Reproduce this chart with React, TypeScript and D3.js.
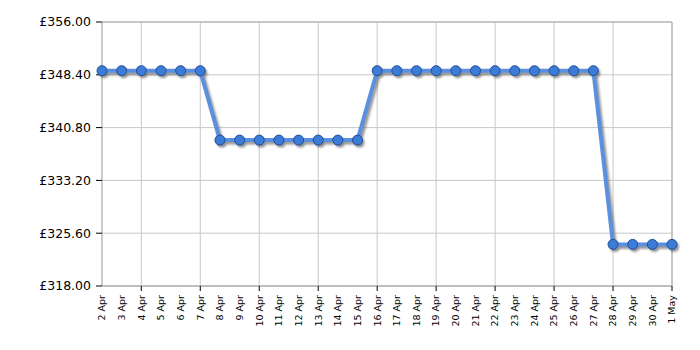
import React from "react";
import * as d3 from "d3";

const dates: string[] = [
  "2 Apr", "3 Apr", "4 Apr", "5 Apr", "6 Apr", "7 Apr", "8 Apr", "9 Apr", "10 Apr", "11 Apr",
  "12 Apr", "13 Apr", "14 Apr", "15 Apr", "16 Apr", "17 Apr", "18 Apr", "19 Apr", "20 Apr", "21 Apr",
  "22 Apr", "23 Apr", "24 Apr", "25 Apr", "26 Apr", "27 Apr", "28 Apr", "29 Apr", "30 Apr", "1 May",
];
const prices: number[] = [
  348.99, 348.99, 348.99, 348.99, 348.99, 348.99,
  339.0, 339.0, 339.0, 339.0, 339.0, 339.0, 339.0, 339.0,
  348.99, 348.99, 348.99, 348.99, 348.99, 348.99, 348.99, 348.99, 348.99, 348.99, 348.99, 348.99,
  323.99, 323.99, 323.99, 323.99,
];
const yTicks: number[] = [318, 325.6, 333.2, 340.8, 348.4, 356];

const W = 700, H = 350;
const M = { left: 102, right: 28, top: 22, bottom: 64 };

export default function App() {
  const x = d3.scaleLinear().domain([0, dates.length - 1]).range([M.left, W - M.right]);
  const y = d3.scaleLinear().domain([318, 356]).range([H - M.bottom, M.top]);
  const line = d3.line<number>().x((_, i) => x(i)).y((d) => y(d));
  const path = line(prices) || "";
  const majorIdx = dates.map((_, i) => i).filter((i) => i % 3 === 2);
  const fmt = (v: number) => "£" + v.toFixed(2);
  const x0 = M.left, x1 = W - M.right, y0 = H - M.bottom, y1 = M.top;
  return (
    <svg width={W} height={H} style={{ position: "absolute", left: 0, top: 0, fontFamily: "DejaVu Sans, Verdana, sans-serif" }}>
      <defs>
        <filter id="blur" x="-10%" y="-10%" width="120%" height="120%">
          <feGaussianBlur stdDeviation="1" />
        </filter>
      </defs>
      <rect x={0} y={0} width={W} height={H} fill="#fff" />
      {yTicks.map((t) => (
        <line key={"h" + t} x1={x0} x2={x1} y1={y(t)} y2={y(t)} stroke="#c8c8c8" strokeWidth={1} />
      ))}
      {majorIdx.map((i) => (
        <line key={"v" + i} x1={x(i)} x2={x(i)} y1={y1} y2={y0} stroke="#c8c8c8" strokeWidth={1} />
      ))}
      <line x1={x0} x2={x1} y1={y1} y2={y1} stroke="#aaa" />
      <line x1={x1} x2={x1} y1={y1} y2={y0} stroke="#aaa" />
      <line x1={x0} x2={x0} y1={y1} y2={y0} stroke="#999" />
      <line x1={x0} x2={x1} y1={y0} y2={y0} stroke="#999" />
      {yTicks.map((t) => (
        <g key={"yt" + t}>
          <line x1={x0 - 6} x2={x0} y1={y(t)} y2={y(t)} stroke="#000" />
          <text x={x0 - 11} y={y(t)} dy="0.35em" textAnchor="end" fontSize={12.5} fill="#000">{fmt(t)}</text>
        </g>
      ))}
      {majorIdx.map((i) => (
        <line key={"xt" + i} x1={x(i)} x2={x(i)} y1={y0} y2={y0 + 5} stroke="#000" />
      ))}
      {dates.map((d, i) => (
        <text key={"xl" + i} transform={`translate(${x(i)},${y0 + 9}) rotate(-90)`} textAnchor="end" dy="0.35em" fontSize={9.5} fill="#000">{d}</text>
      ))}
      <g transform="translate(2,2.5)" filter="url(#blur)" opacity={0.6}>
        <path d={path} fill="none" stroke="#555" strokeWidth={4} strokeLinejoin="round" />
        {prices.map((p, i) => (
          <circle key={"s" + i} cx={x(i)} cy={y(p)} r={5} fill="#444" />
        ))}
      </g>
      <path d={path} fill="none" stroke="#5b90e0" strokeWidth={4} strokeLinejoin="round" />
      {prices.map((p, i) => (
        <circle key={"c" + i} cx={x(i)} cy={y(p)} r={5} fill="#3c7bd6" stroke="#1f4f9a" strokeWidth={1} />
      ))}
    </svg>
  );
}
